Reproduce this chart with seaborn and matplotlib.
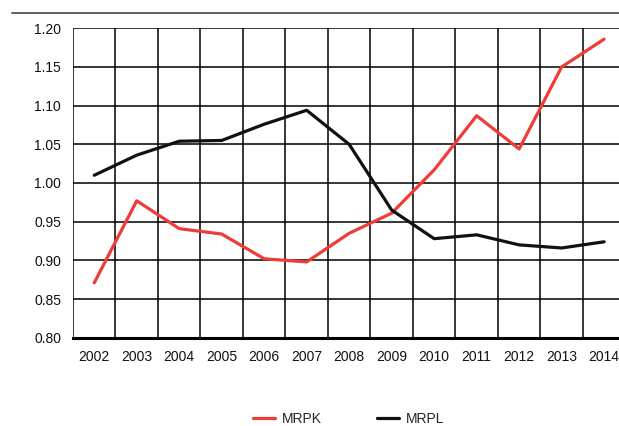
"""MRPK vs MRPL line chart, 2002-2014."""
import numpy as np
import pandas as pd
import matplotlib
matplotlib.use("Agg")
import matplotlib.pyplot as plt
import seaborn as sns
from matplotlib.lines import Line2D

years = ["2002", "2003", "2004", "2005", "2006", "2007", "2008",
         "2009", "2010", "2011", "2012", "2013", "2014"]
mrpk = [0.871, 0.977, 0.941, 0.934, 0.902, 0.898, 0.935,
        0.961, 1.017, 1.087, 1.044, 1.150, 1.186]
mrpl = [1.010, 1.036, 1.054, 1.055, 1.076, 1.094, 1.050,
        0.965, 0.928, 0.933, 0.920, 0.916, 0.924]
y_ticks = [0.80, 0.85, 0.90, 0.95, 1.00, 1.05, 1.10, 1.15, 1.20]

sns.set_style("white")
plt.rcParams["font.family"] = ["Liberation Sans", "DejaVu Sans"]

pos = np.arange(len(years))
df = pd.DataFrame({
    "pos": np.concatenate([pos, pos]),
    "value": mrpk + mrpl,
    "series": ["MRPK"] * len(years) + ["MRPL"] * len(years),
})

fig = plt.figure(figsize=(6.19, 4.26), dpi=100)
ax = fig.add_axes([73 / 619, 1 - 337.7 / 426, (619 - 73) / 619, (337.7 - 28.3) / 426])

sns.lineplot(data=df, x="pos", y="value", hue="series",
             palette={"MRPK": "#ee3d36", "MRPL": "#111111"},
             linewidth=2.3, ax=ax, legend=False, zorder=3)

# grid: vertical lines at category boundaries, horizontal at ticks
ax.set_xticks(pos)
ax.set_xticklabels(years)
ax.set_xticks(np.arange(-0.5, len(years)), minor=True)
ax.set_yticks(y_ticks)
ax.set_yticklabels([f"{t:.2f}" for t in y_ticks])
ax.grid(True, which="minor", axis="x", color="black", linewidth=1.1)
ax.grid(True, which="major", axis="y", color="black", linewidth=1.1)
ax.set_axisbelow(True)
ax.set_xlim(-0.5, 12.35)
ax.set_ylim(0.80, 1.20)
ax.tick_params(axis="both", which="both", length=0, labelsize=10, colors="#111111")
ax.tick_params(axis="x", pad=9)
ax.tick_params(axis="y", pad=8.6)
ax.set_xlabel("")
ax.set_ylabel("")
for side in ["top", "right", "left"]:
    ax.spines[side].set_visible(False)
ax.spines["bottom"].set_linewidth(2.2)
ax.spines["bottom"].set_color("black")

# rule across the top of the figure
fig.add_artist(Line2D([12 / 619, 1.0], [1 - 13 / 426, 1 - 13 / 426],
                      transform=fig.transFigure, color="#444444", linewidth=1.2))

handles = [Line2D([], [], color="#ee3d36", linewidth=2.3),
           Line2D([], [], color="#111111", linewidth=2.3)]
fig.legend(handles, ["MRPK", "MRPL"], loc="center", bbox_to_anchor=(0.563, 1 - 419 / 426),
           ncol=2, frameon=False, fontsize=10, handlelength=1.6,
           columnspacing=4.0, handletextpad=0.45)

fig.savefig("out.png", dpi=100)
